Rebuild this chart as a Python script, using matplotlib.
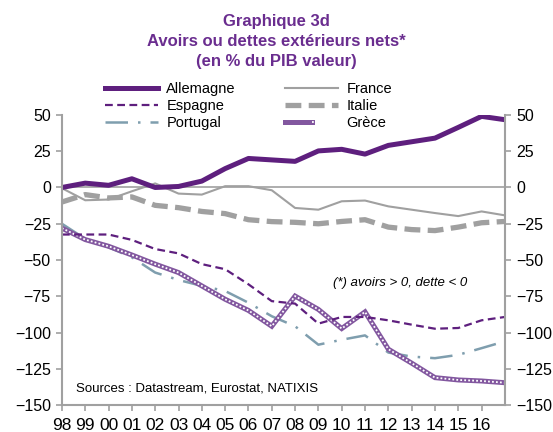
import numpy as np
import matplotlib
matplotlib.use('Agg')
import matplotlib.pyplot as plt
from matplotlib.legend_handler import HandlerTuple

plt.rcParams['font.family'] = ['Liberation Sans', 'DejaVu Sans']

years = np.arange(1998, 2018)
year_labels = ['98', '99', '00', '01', '02', '03', '04', '05', '06', '07',
               '08', '09', '10', '11', '12', '13', '14', '15', '16']

allemagne = [0, 3, 1.5, 6, 0, 0.7, 4.4, 13, 20, 19, 18, 25.2, 26.3, 23, 29, 31.5, 34, 41.4, 49, 46.7]
france = [-0.5, -8.8, -8.3, -2.6, 2.8, -4.2, -4.9, 0.9, 0.9, -1.9, -14.1, -15.3, -9.5, -9, -13, -15.3, -17.6, -19.7, -16.5, -19.2]
espagne = [-32.4, -32.4, -32.4, -36.1, -42.4, -45.4, -52.8, -56.3, -66.7, -78.3, -80, -93.8, -89.2, -89.2, -91.5, -94.5, -97.3, -96.8, -91.5, -89.2]
italie = [-10, -4.9, -7.2, -6.5, -12.3, -13.9, -16.5, -18, -22.2, -23.5, -24, -25, -23.4, -22.2, -27.3, -29, -29.7, -27.3, -24.3, -23.4]
portugal = [-25, -35.4, -41.2, -48.1, -58.6, -63.7, -67.8, -71.3, -79.4, -88.7, -95.6, -108.3, -104.9, -101.9, -113.7, -116.5, -117.6, -115.3, -110.7, -106]
grece = [-28, -35.9, -40.5, -46.5, -52.8, -58.6, -67.8, -77, -84.7, -95.6, -74.8, -84, -97.2, -85.7, -111.4, -121, -131, -132.6, -133.3, -134.5]

purple = '#5E1F7E'
title_purple = '#6A2D8F'
grey = '#A0A0A0'
blue_grey = '#7F9EAE'

fig = plt.figure(figsize=(5.53, 4.32), dpi=100)
ax = fig.add_axes([0.112, 0.062, 0.801, 0.672])

ax.axhline(0, color=grey, lw=1.2, zorder=1)

l_fr, = ax.plot(years, france, color=grey, lw=1.5, label='France')
l_it, = ax.plot(years, italie, color=grey, lw=3.8, dashes=(3, 1.4), label='Italie')
l_pt, = ax.plot(years, portugal, color=blue_grey, lw=1.8, dashes=(9, 4, 1, 4), label='Portugal')
l_gr1, = ax.plot(years, grece, color='#82579F', lw=3.6, solid_joinstyle='miter')
l_gr2, = ax.plot(years, grece, color='white', lw=1.3, dashes=(1, 1.2))
l_es, = ax.plot(years, espagne, color=purple, lw=1.6, dashes=(3.5, 2), label='Espagne')
l_de, = ax.plot(years, allemagne, color=purple, lw=3.6, label='Allemagne')

ax.set_xlim(1998, 2017)
ax.set_ylim(-150, 50)
ax.set_yticks(np.arange(-150, 51, 25))
ax.set_xticks(years[:-1])
ax.set_xticklabels(year_labels)

for s in ['left', 'right', 'bottom']:
    ax.spines[s].set_color(grey)
    ax.spines[s].set_linewidth(1.5)
ax.spines['top'].set_visible(False)
ax.tick_params(axis='y', which='both', left=True, right=True, labelleft=True, labelright=True,
               direction='out', length=4, width=1.2, color=grey, labelsize=11.5, pad=4)
ax.tick_params(axis='x', direction='out', length=4, width=1.2, color=grey, labelsize=12.5, pad=5)

fig.text(0.723, 0.345, '(*) avoirs > 0, dette < 0', ha='center', va='center',
         fontsize=9.5, style='italic')
fig.text(0.137, 0.10, 'Sources : Datastream, Eurostat, NATIXIS', ha='left', va='center',
         fontsize=9.5)

fig.text(0.5, 0.968, 'Graphique 3d\nAvoirs ou dettes extérieurs nets*\n(en % du PIB valeur)',
         ha='center', va='top', fontsize=12, fontweight='bold', color=title_purple,
         linespacing=1.42)

handles = [l_de, l_es, l_pt, l_fr, l_it, (l_gr1, l_gr2)]
labels = ['Allemagne', 'Espagne', 'Portugal', 'France', 'Italie', 'Grèce']
fig.legend(handles, labels, ncol=2, frameon=False, loc='upper left',
           bbox_to_anchor=(0.19, 0.81), fontsize=10.5, handlelength=3.6,
           handletextpad=0.6, columnspacing=3.4, labelspacing=0.22, borderpad=0,
           borderaxespad=0, handler_map={tuple: HandlerTuple(ndivide=None, pad=0)})

fig.savefig('out.png', dpi=100)
